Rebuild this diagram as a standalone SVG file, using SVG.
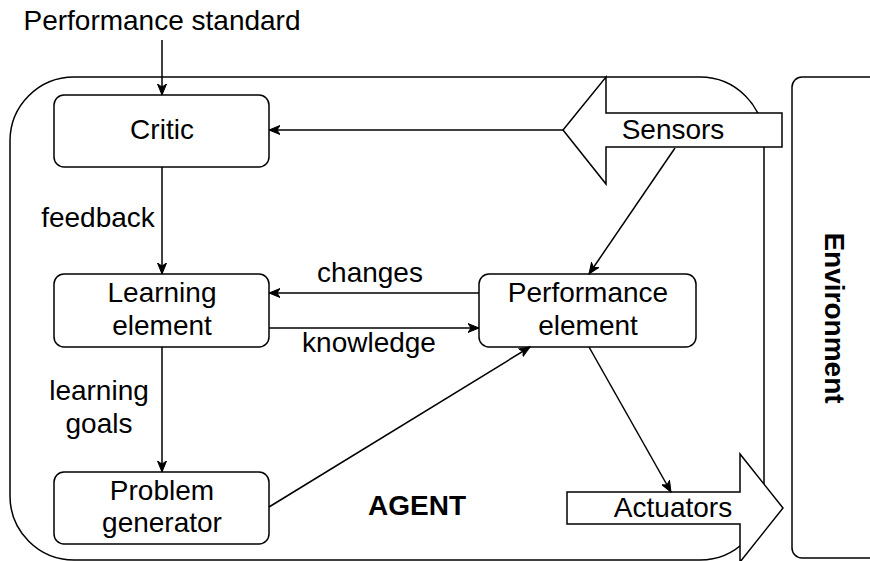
<svg xmlns="http://www.w3.org/2000/svg" width="870" height="561" viewBox="0 0 870 561">
<style>
text{font-family:"Liberation Sans",Arial,Helvetica,sans-serif;font-size:28px;fill:#000;text-anchor:middle}
.b{font-weight:bold}
.box{fill:#fff;stroke:#000;stroke-width:1.5}
.ln{fill:none;stroke:#000;stroke-width:1.5}
.e{stroke:#000;stroke-width:1.5;fill:none}
</style>
<defs>
<marker id="ar" markerUnits="userSpaceOnUse" markerWidth="12" markerHeight="10" viewBox="0 0 12 10" refX="11" refY="5" orient="auto">
<path d="M0,0.5 L11,5 L0,9.5 L3,5 z" fill="#000" stroke="#000" stroke-width="1"/>
</marker>
</defs>
<g id="agent">
<rect class="box" x="10" y="77" width="754" height="483" rx="64"/>
<text class="b" x="417" y="515">AGENT</text>
</g>
<g id="environment">
<rect class="box" x="792" y="77" width="120" height="481" rx="10"/>
<text class="b" transform="translate(825,318) rotate(90)" x="0" y="0">Environment</text>
</g>
<g id="sensors">
<polygon class="box" points="563,130 606,77 606,113 782,113 782,147 606,147 606,184"/>
<text x="673" y="139">Sensors</text>
</g>
<g id="actuators">
<polygon class="box" points="567,492 740,492 740,454 783,508 740,562 740,524 567,524"/>
<text x="673" y="517">Actuators</text>
</g>
<g id="critic">
<rect class="box" x="54" y="95" width="215" height="72" rx="10"/>
<text x="162" y="139">Critic</text>
</g>
<g id="learning">
<rect class="box" x="54" y="274" width="215" height="73" rx="10"/>
<text x="162" y="302">Learning</text>
<text x="162" y="335">element</text>
</g>
<g id="performance">
<rect class="box" x="479" y="274" width="217" height="73" rx="10"/>
<text x="588" y="302">Performance</text>
<text x="588" y="335">element</text>
</g>
<g id="problem">
<rect class="box" x="54" y="472" width="215" height="72" rx="10"/>
<text x="162" y="500">Problem</text>
<text x="162" y="532">generator</text>
</g>
<g id="connectors">
<text x="162" y="30">Performance standard</text>
<line class="e" x1="162" y1="40" x2="162" y2="95" marker-end="url(#ar)"/>
<line class="e" x1="162" y1="167" x2="162" y2="274" marker-end="url(#ar)"/>
<text x="98" y="227">feedback</text>
<line class="e" x1="162" y1="347" x2="162" y2="472" marker-end="url(#ar)"/>
<text x="99" y="400">learning</text>
<text x="99" y="433">goals</text>
<line class="e" x1="563" y1="130" x2="269" y2="130" marker-end="url(#ar)"/>
<line class="e" x1="675" y1="148" x2="589" y2="274" marker-end="url(#ar)"/>
<line class="e" x1="479" y1="293" x2="269" y2="293" marker-end="url(#ar)"/>
<text x="370" y="282">changes</text>
<line class="e" x1="269" y1="328" x2="479" y2="328" marker-end="url(#ar)"/>
<text x="369" y="352">knowledge</text>
<line class="e" x1="269" y1="507" x2="530" y2="347" marker-end="url(#ar)"/>
<line class="e" x1="589" y1="347" x2="671" y2="492" marker-end="url(#ar)"/>
</g>
</svg>
